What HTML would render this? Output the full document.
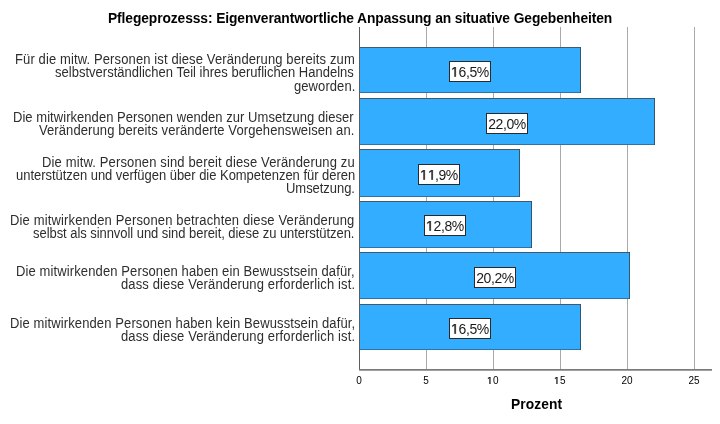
<!DOCTYPE html>
<html><head><meta charset="utf-8"><style>
html,body{margin:0;padding:0;background:#fff;width:720px;height:424px;overflow:hidden;}
body{position:relative;font-family:"Liberation Sans",sans-serif;color:#2e2e2e;}
.t{position:absolute;white-space:nowrap;line-height:16px;will-change:transform;}
.l{position:absolute;white-space:nowrap;font-size:13.0px;line-height:16px;transform:scaleY(1.08);transform-origin:0 12.5px;will-change:transform;}
svg{position:absolute;left:0;top:0;}
.vb{position:absolute;background:#fff;border:1px solid #2a2a2a;box-sizing:border-box;width:42px;height:21px;}
.vt{position:absolute;left:0px;top:2px;width:40px;text-align:center;font-size:14px;line-height:16px;letter-spacing:-0.45px;color:#1a1a1a;will-change:transform;}
</style></head><body>
<div class="t" style="left:108px;top:11px;font-weight:bold;color:#000;font-size:13.8px;letter-spacing:-0.092px;">Pflegeprozesss: Eigenverantwortliche Anpassung an situative Gegebenheiten</div>
<div class="l" style="left:14.9px;top:52px;letter-spacing:0.12px">Für die mitw. Personen ist diese Veränderung bereits zum</div>
<div class="l" style="left:54.9px;top:65px;letter-spacing:0.012px">selbstverständlichen Teil ihres beruflichen Handelns</div>
<div class="l" style="left:293.9px;top:79px;letter-spacing:0.075px">geworden.</div>
<div class="l" style="left:13.1px;top:110px;letter-spacing:0.046px">Die mitwirkenden Personen wenden zur Umsetzung dieser</div>
<div class="l" style="left:38.9px;top:123px;letter-spacing:0.094px">Veränderung bereits veränderte Vorgehensweisen an.</div>
<div class="l" style="left:42.0px;top:155px;letter-spacing:0.14px">Die mitw. Personen sind bereit diese Veränderung zu</div>
<div class="l" style="left:15.5px;top:168px;letter-spacing:-0.036px">unterstützen und verfügen über die Kompetenzen für deren</div>
<div class="l" style="left:285.9px;top:181px;letter-spacing:-0.044px">Umsetzung.</div>
<div class="l" style="left:10.4px;top:213px;letter-spacing:0.143px">Die mitwirkenden Personen betrachten diese Veränderung</div>
<div class="l" style="left:33.0px;top:226px;letter-spacing:-0.052px">selbst als sinnvoll und sind bereit, diese zu unterstützen.</div>
<div class="l" style="left:16.3px;top:264px;letter-spacing:0.117px">Die mitwirkenden Personen haben ein Bewusstsein dafür,</div>
<div class="l" style="left:121.0px;top:277px;letter-spacing:0.128px">dass diese Veränderung erforderlich ist.</div>
<div class="l" style="left:9.8px;top:316px;letter-spacing:0.115px">Die mitwirkenden Personen haben kein Bewusstsein dafür,</div>
<div class="l" style="left:121.0px;top:329px;letter-spacing:0.128px">dass diese Veränderung erforderlich ist.</div>
<svg width="720" height="424">
<line x1="426.5" y1="27" x2="426.5" y2="369" stroke="#a9a9a9" stroke-width="1"/>
<line x1="493.5" y1="27" x2="493.5" y2="369" stroke="#a9a9a9" stroke-width="1"/>
<line x1="560.5" y1="27" x2="560.5" y2="369" stroke="#a9a9a9" stroke-width="1"/>
<line x1="627.5" y1="27" x2="627.5" y2="369" stroke="#a9a9a9" stroke-width="1"/>
<line x1="694.5" y1="27" x2="694.5" y2="369" stroke="#a9a9a9" stroke-width="1"/>
<rect x="359" y="47" width="222" height="46" fill="#33adff"/>
<rect x="359" y="47" width="222" height="1" fill="#41596b"/>
<rect x="359" y="92" width="222" height="1" fill="#2f73a6"/>
<rect x="580" y="47" width="1" height="46" fill="#34556e"/>
<rect x="359" y="98" width="296" height="47" fill="#33adff"/>
<rect x="359" y="98" width="296" height="1" fill="#41596b"/>
<rect x="359" y="144" width="296" height="1" fill="#2f73a6"/>
<rect x="654" y="98" width="1" height="47" fill="#34556e"/>
<rect x="359" y="149" width="161" height="48" fill="#33adff"/>
<rect x="359" y="149" width="161" height="1" fill="#41596b"/>
<rect x="359" y="196" width="161" height="1" fill="#2f73a6"/>
<rect x="519" y="149" width="1" height="48" fill="#34556e"/>
<rect x="359" y="201" width="173" height="47" fill="#33adff"/>
<rect x="359" y="201" width="173" height="1" fill="#41596b"/>
<rect x="359" y="247" width="173" height="1" fill="#2f73a6"/>
<rect x="531" y="201" width="1" height="47" fill="#34556e"/>
<rect x="359" y="252" width="271" height="47" fill="#33adff"/>
<rect x="359" y="252" width="271" height="1" fill="#41596b"/>
<rect x="359" y="298" width="271" height="1" fill="#2f73a6"/>
<rect x="629" y="252" width="1" height="47" fill="#34556e"/>
<rect x="359" y="304" width="222" height="46" fill="#33adff"/>
<rect x="359" y="304" width="222" height="1" fill="#41596b"/>
<rect x="359" y="349" width="222" height="1" fill="#2f73a6"/>
<rect x="580" y="304" width="1" height="46" fill="#34556e"/>
<line x1="359.5" y1="27" x2="359.5" y2="370" stroke="#5c5c5c" stroke-width="1"/>
<rect x="359" y="369" width="353" height="1" fill="#7a7a7a"/><rect x="359" y="370" width="353" height="1" fill="#a0a0a0"/>
</svg>
<div class="vb" style="left:449px;top:61px"><div class="vt"><svg style="position:static;display:inline-block;vertical-align:baseline;width:7.786px;height:9.632px;margin-right:-0.45px" viewBox="0 0 1139 1409" preserveAspectRatio="none"><path fill="#1a1a1a" stroke="#1a1a1a" stroke-width="50" d="M515 1409V172L197 399V229L530 0H696V1409Z"/></svg>6,5%</div></div>
<div class="vb" style="left:486px;top:113px"><div class="vt">22,0%</div></div>
<div class="vb" style="left:418px;top:164px"><div class="vt"><svg style="position:static;display:inline-block;vertical-align:baseline;width:7.786px;height:9.632px;margin-right:-0.45px" viewBox="0 0 1139 1409" preserveAspectRatio="none"><path fill="#1a1a1a" stroke="#1a1a1a" stroke-width="50" d="M515 1409V172L197 399V229L530 0H696V1409Z"/></svg><svg style="position:static;display:inline-block;vertical-align:baseline;width:7.786px;height:9.632px;margin-right:-0.45px" viewBox="0 0 1139 1409" preserveAspectRatio="none"><path fill="#1a1a1a" stroke="#1a1a1a" stroke-width="50" d="M515 1409V172L197 399V229L530 0H696V1409Z"/></svg>,9%</div></div>
<div class="vb" style="left:424px;top:215px"><div class="vt"><svg style="position:static;display:inline-block;vertical-align:baseline;width:7.786px;height:9.632px;margin-right:-0.45px" viewBox="0 0 1139 1409" preserveAspectRatio="none"><path fill="#1a1a1a" stroke="#1a1a1a" stroke-width="50" d="M515 1409V172L197 399V229L530 0H696V1409Z"/></svg>2,8%</div></div>
<div class="vb" style="left:474px;top:267px"><div class="vt">20,2%</div></div>
<div class="vb" style="left:449px;top:318px"><div class="vt"><svg style="position:static;display:inline-block;vertical-align:baseline;width:7.786px;height:9.632px;margin-right:-0.45px" viewBox="0 0 1139 1409" preserveAspectRatio="none"><path fill="#1a1a1a" stroke="#1a1a1a" stroke-width="50" d="M515 1409V172L197 399V229L530 0H696V1409Z"/></svg>6,5%</div></div>
<div class="t" style="left:338.8px;width:40px;text-align:center;top:373px;font-size:10px;color:#000;">0</div>
<div class="t" style="left:405.8px;width:40px;text-align:center;top:373px;font-size:10px;color:#000;">5</div>
<div class="t" style="left:472.8px;width:40px;text-align:center;top:373px;font-size:10px;color:#000;"><svg style="position:static;display:inline-block;vertical-align:baseline;width:5.562px;height:6.880px;margin-right:0px" viewBox="0 0 1139 1409" preserveAspectRatio="none"><path fill="#000" stroke="#000" stroke-width="50" d="M515 1409V172L197 399V229L530 0H696V1409Z"/></svg>0</div>
<div class="t" style="left:539.8px;width:40px;text-align:center;top:373px;font-size:10px;color:#000;"><svg style="position:static;display:inline-block;vertical-align:baseline;width:5.562px;height:6.880px;margin-right:0px" viewBox="0 0 1139 1409" preserveAspectRatio="none"><path fill="#000" stroke="#000" stroke-width="50" d="M515 1409V172L197 399V229L530 0H696V1409Z"/></svg>5</div>
<div class="t" style="left:606.8px;width:40px;text-align:center;top:373px;font-size:10px;color:#000;">20</div>
<div class="t" style="left:673.8px;width:40px;text-align:center;top:373px;font-size:10px;color:#000;">25</div>
<div class="t" style="left:510.7px;top:397px;font-weight:bold;color:#000;font-size:13.8px;letter-spacing:0.067px;">Prozent</div>
</body></html>
